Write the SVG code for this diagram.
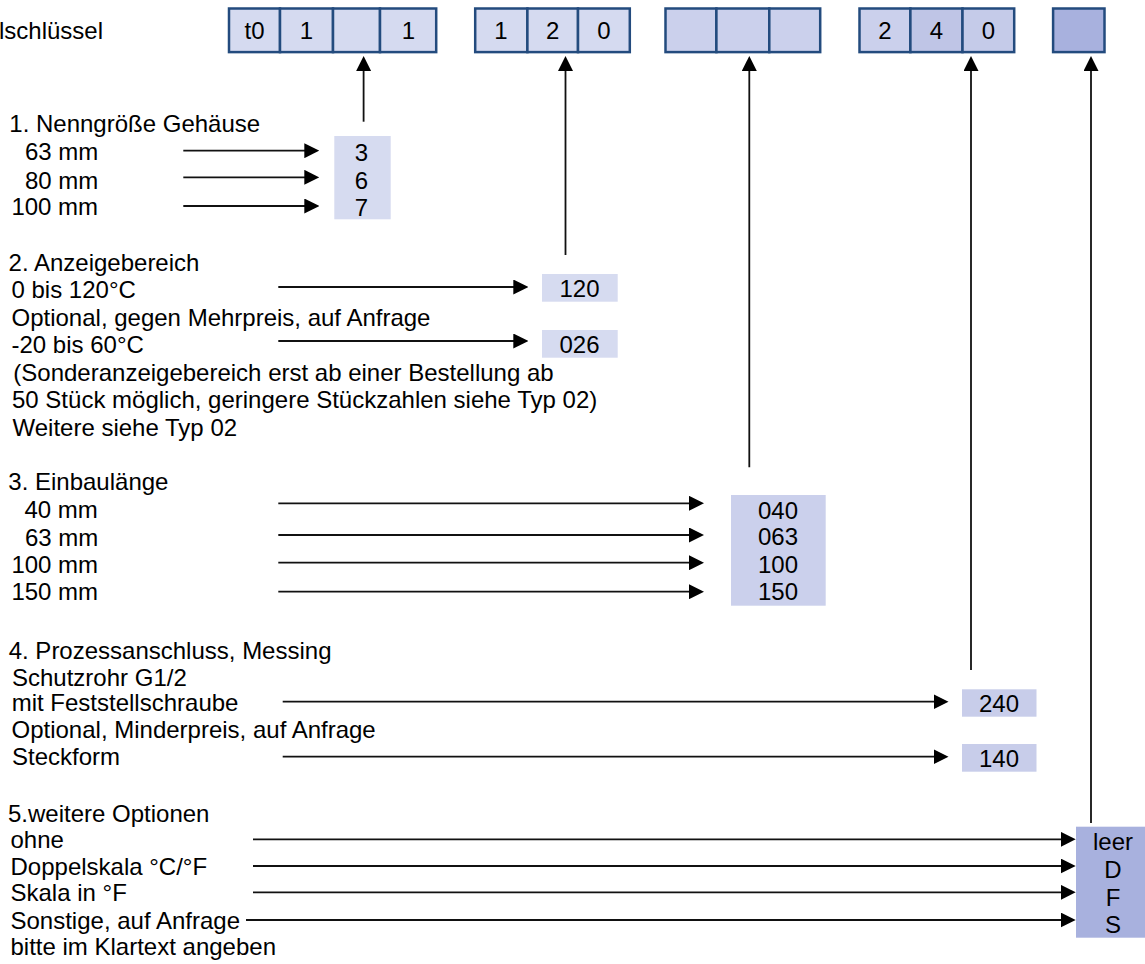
<svg xmlns="http://www.w3.org/2000/svg" width="1145" height="964" viewBox="0 0 1145 964">
<style>
text{font-family:"Liberation Sans",Arial,"Noto Sans",sans-serif;font-size:24px;fill:#000}
.c{text-anchor:middle}
.cell{stroke:#234B7E;stroke-width:2.5}
.f1{fill:#D5DAF0}.f2{fill:#CBD0EC}.f3{fill:#BFC5E6}.f4{fill:#C5CBE9}.f5{fill:#A8B1DE}
.vb1{fill:#D6DBF0}.vb2{fill:#CBD0EC}.vb3{fill:#C8CDEA}.vb4{fill:#A8B1DE}
#connectors line{stroke:#111;stroke-width:1.8;marker-end:url(#ah)}
</style>
<defs>
<marker id="ah" markerWidth="15" markerHeight="15" refX="5" refY="7.5" orient="auto" markerUnits="userSpaceOnUse">
<path d="M0,0 L15,7.5 L0,15 z" fill="#000"/>
</marker>
</defs>
<rect width="1145" height="964" fill="#fff"/>

<g id="title"><text x="-1" y="38.5">lschlüssel</text></g>

<g id="code-1">
<rect class="cell f1" x="229" y="8.5" width="51" height="43.6"/>
<rect class="cell f1" x="280" y="8.5" width="53" height="43.6"/>
<rect class="cell f1" x="333" y="8.5" width="47" height="43.6"/>
<rect class="cell f1" x="380" y="8.5" width="56.2" height="43.6"/>
<text class="c" x="254.5" y="39">t0</text>
<text class="c" x="306.5" y="39">1</text>
<text class="c" x="408.5" y="39">1</text>
</g>
<g id="code-2">
<rect class="cell f1" x="475.2" y="8.5" width="52.2" height="43.6"/>
<rect class="cell f1" x="527.4" y="8.5" width="50.6" height="43.6"/>
<rect class="cell f1" x="578" y="8.5" width="51.8" height="43.6"/>
<text class="c" x="501" y="39">1</text>
<text class="c" x="552.7" y="39">2</text>
<text class="c" x="604" y="39">0</text>
</g>
<g id="code-3">
<rect class="cell f2" x="665.5" y="8.5" width="50.9" height="43.6"/>
<rect class="cell f2" x="716.4" y="8.5" width="52.9" height="43.6"/>
<rect class="cell f2" x="769.3" y="8.5" width="50.9" height="43.6"/>
</g>
<g id="code-4">
<rect class="cell f2" x="859.5" y="8.5" width="50.9" height="43.6"/>
<rect class="cell f3" x="910.4" y="8.5" width="52.1" height="43.6"/>
<rect class="cell f4" x="962.5" y="8.5" width="51.7" height="43.6"/>
<text class="c" x="885" y="39">2</text>
<text class="c" x="936.5" y="39">4</text>
<text class="c" x="988.5" y="39">0</text>
</g>
<g id="code-5">
<rect class="cell f5" x="1053.1" y="8.5" width="51.4" height="43.6"/>
</g>

<g id="section-1">
<text x="9.3" y="132">1. Nenngröße Gehäuse</text>
<text x="25" y="160.3">63 mm</text>
<text x="25" y="188.6">80 mm</text>
<text x="11.4" y="215.3">100 mm</text>
</g>
<g id="value-1">
<rect class="vb1" x="334.3" y="136" width="56.4" height="83.3"/>
<text class="c" x="361.5" y="160.5">3</text>
<text class="c" x="361.5" y="188.5">6</text>
<text class="c" x="361.5" y="215.5">7</text>
</g>

<g id="section-2">
<text x="8.6" y="270.7">2. Anzeigebereich</text>
<text x="11.5" y="298">0 bis 120°C</text>
<text x="11.5" y="325.5">Optional, gegen Mehrpreis, auf Anfrage</text>
<text x="11.5" y="353">-20 bis 60°C</text>
<text x="13.3" y="380.5">(Sonderanzeigebereich erst ab einer Bestellung ab</text>
<text x="12" y="408">50 Stück möglich, geringere Stückzahlen siehe Typ 02)</text>
<text x="12.5" y="435.5">Weitere siehe Typ 02</text>
</g>
<g id="value-2">
<rect class="vb1" x="542" y="274" width="75.7" height="27.7"/>
<rect class="vb1" x="542" y="330" width="75.7" height="27.7"/>
<text class="c" x="579.5" y="296.5">120</text>
<text class="c" x="579.5" y="352.5">026</text>
</g>

<g id="section-3">
<text x="8.3" y="490">3. Einbaulänge</text>
<text x="24.4" y="518">40 mm</text>
<text x="25" y="546">63 mm</text>
<text x="11.4" y="573">100 mm</text>
<text x="11.4" y="600">150 mm</text>
</g>
<g id="value-3">
<rect class="vb2" x="731" y="495" width="94.7" height="110.7"/>
<text class="c" x="778" y="518.6">040</text>
<text class="c" x="778" y="545.3">063</text>
<text class="c" x="778" y="572.6">100</text>
<text class="c" x="778" y="600.3">150</text>
</g>

<g id="section-4">
<text x="8.7" y="659">4. Prozessanschluss, Messing</text>
<text x="12" y="685.5">Schutzrohr G1/2</text>
<text x="11.7" y="711">mit Feststellschraube</text>
<text x="11.5" y="738">Optional, Minderpreis, auf Anfrage</text>
<text x="12" y="765">Steckform</text>
</g>
<g id="value-4">
<rect class="vb3" x="962" y="689.3" width="74.5" height="27.4"/>
<rect class="vb3" x="962" y="744" width="74.5" height="27.7"/>
<text class="c" x="999" y="711.6">240</text>
<text class="c" x="999" y="766.5">140</text>
</g>

<g id="section-5">
<text x="8" y="822">5.weitere Optionen</text>
<text x="10.5" y="848">ohne</text>
<text x="10.5" y="874.6">Doppelskala °C/°F</text>
<text x="10.5" y="901">Skala in °F</text>
<text x="10.5" y="928.6">Sonstige, auf Anfrage</text>
<text x="10.5" y="955">bitte im Klartext angeben</text>
</g>
<g id="value-5">
<rect class="vb4" x="1076" y="826.7" width="75" height="111"/>
<text class="c" x="1113" y="850.3">leer</text>
<text class="c" x="1113" y="878">D</text>
<text class="c" x="1113" y="905.5">F</text>
<text class="c" x="1113" y="933">S</text>
</g>

<g id="connectors">
<line x1="363.6" y1="121.7" x2="363.6" y2="66"/>
<line x1="565.5" y1="255" x2="565.5" y2="66"/>
<line x1="749.3" y1="467.3" x2="749.3" y2="66"/>
<line x1="971" y1="670" x2="971" y2="66"/>
<line x1="1091" y1="823" x2="1091" y2="66"/>

<line x1="183.3" y1="150.7" x2="309.3" y2="150.7"/>
<line x1="183.3" y1="177.3" x2="309.3" y2="177.3"/>
<line x1="183.3" y1="206" x2="309.3" y2="206"/>

<line x1="278.3" y1="287" x2="518.3" y2="287"/>
<line x1="278.3" y1="341" x2="518.3" y2="341"/>

<line x1="278.3" y1="503.3" x2="694" y2="503.3"/>
<line x1="278.3" y1="535" x2="694" y2="535"/>
<line x1="278.3" y1="562.7" x2="694" y2="562.7"/>
<line x1="278.3" y1="591.7" x2="694" y2="591.7"/>

<line x1="282.7" y1="701.7" x2="938.5" y2="701.7"/>
<line x1="282.7" y1="756.7" x2="938.5" y2="756.7"/>

<line x1="253" y1="839.3" x2="1065.7" y2="839.3"/>
<line x1="253" y1="866" x2="1065.7" y2="866"/>
<line x1="253" y1="892.3" x2="1065.7" y2="892.3"/>
<line x1="246" y1="920" x2="1065.7" y2="920"/>
</g>
</svg>
